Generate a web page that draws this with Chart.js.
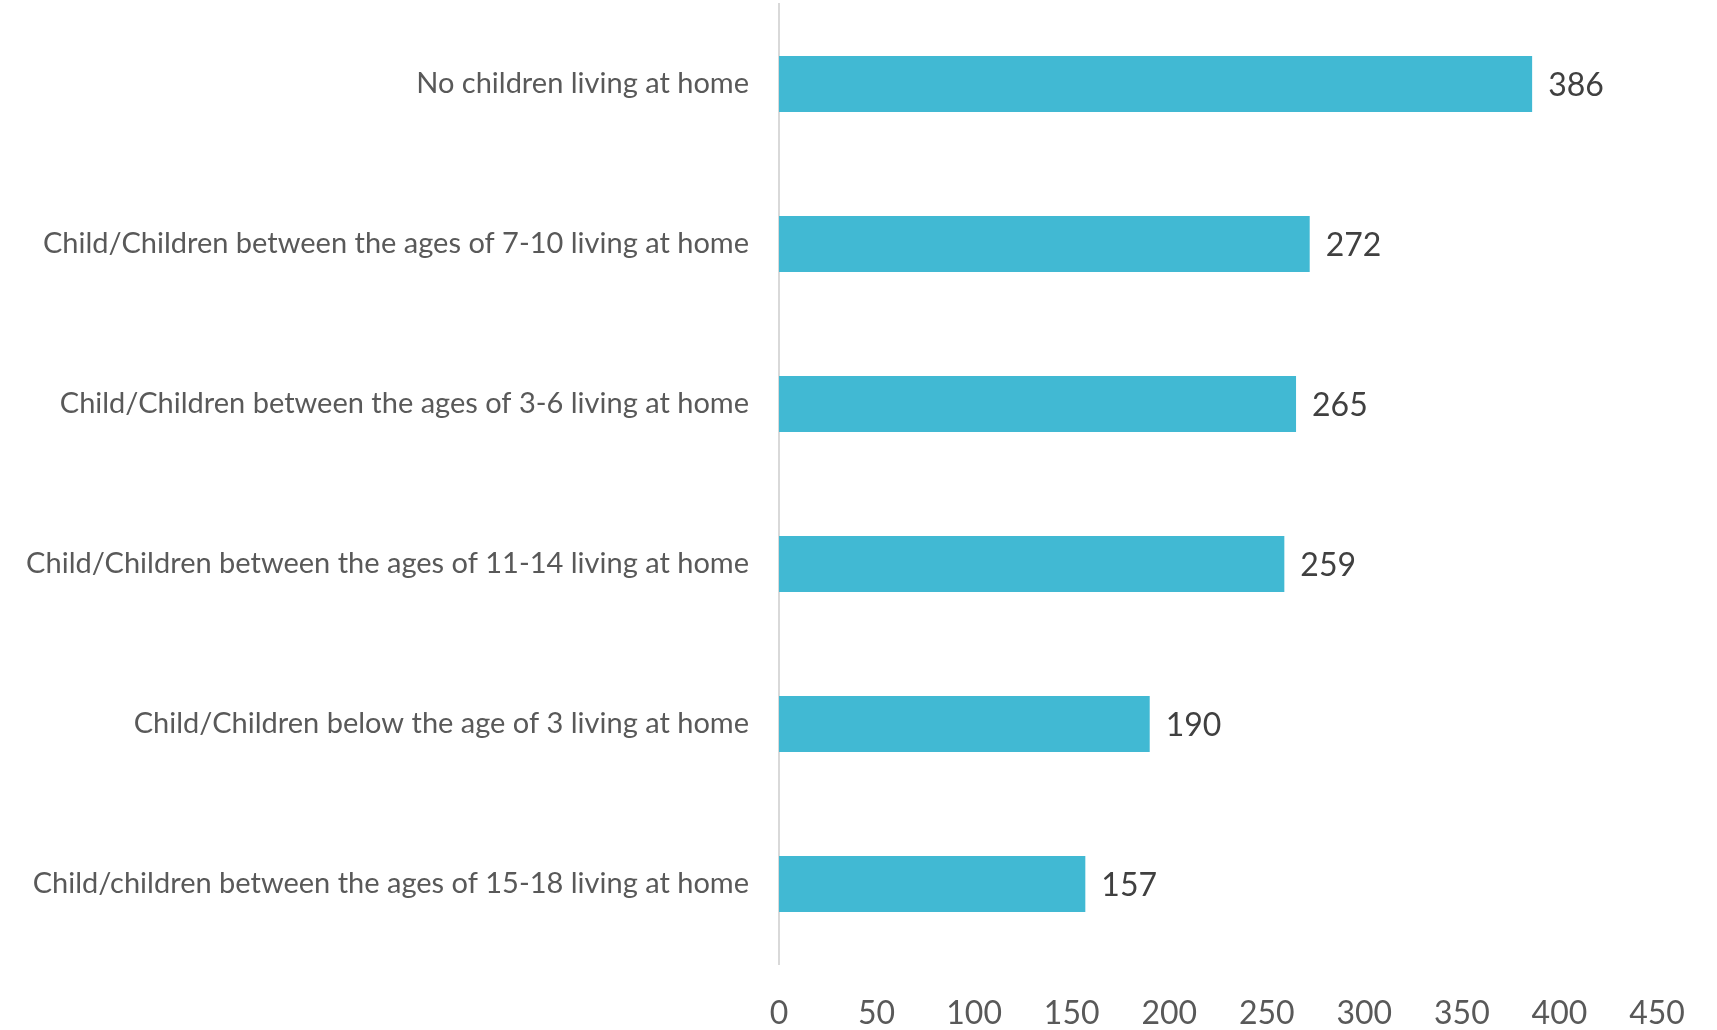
<!DOCTYPE html>
<html lang="en">
<head>
    <meta charset="UTF-8">
    <script src="https://cdn.jsdelivr.net/npm/chart.js"></script>
    <title>children at home</title>
    <style>
        html, body { margin: 0; padding: 0; background: #fff; }
        #box { width: 1717px; height: 1030px; }
    </style>
</head>
<body>
    <div id="box">
        <canvas id="grafico" width="1717" height="1030"></canvas>
    </div>

<script>
    const categorias = [
        'No children living at home',
        'Child/Children between the ages of 7-10 living at home',
        'Child/Children between the ages of 3-6 living at home',
        'Child/Children between the ages of 11-14 living at home',
        'Child/Children below the age of 3 living at home',
        'Child/children between the ages of 15-18 living at home'
    ];
    const valores = [386, 272, 265, 259, 190, 157];
    const ticksX = [0, 50, 100, 150, 200, 250, 300, 350, 400, 450];

    // writes the value next to the end of every bar
    const rotulos = {
        id: 'rotulos',
        afterDatasetsDraw(chart) {
            const ctx = chart.ctx;
            const meta = chart.getDatasetMeta(0);
            ctx.save();
            ctx.font = '32px Lato';
            ctx.fillStyle = '#404040';
            ctx.textAlign = 'left';
            ctx.textBaseline = 'middle';
            meta.data.forEach(function (bar, i) {
                ctx.fillText(String(valores[i]), bar.x + 16, bar.y + 2);
            });
            ctx.restore();
        }
    };

    const config = {
        type: 'bar',
        data: {
            labels: categorias,
            datasets: [{
                data: valores,
                backgroundColor: '#41B9D3',
                borderWidth: 0,
                barPercentage: 0.35,
                categoryPercentage: 1
            }]
        },
        options: {
            indexAxis: 'y',
            responsive: false,
            animation: false,
            layout: { padding: { top: 4, right: 60, left: 0, bottom: 0 } },
            plugins: {
                legend: { display: false },
                tooltip: { enabled: false }
            },
            scales: {
                x: {
                    min: 0,
                    max: 450,
                    afterBuildTicks(scale) {
                        scale.ticks = ticksX.map(v => ({ value: v }));
                    },
                    afterFit(scale) {
                        scale.height = 66;
                        scale.paddingLeft = 0;
                        scale.paddingRight = 0;
                    },
                    grid: { display: false, drawTicks: false },
                    border: { display: false },
                    ticks: {
                        padding: 30,
                        color: '#595959',
                        font: { family: 'Lato', size: 32 }
                    }
                },
                y: {
                    afterFit(scale) {
                        scale.width = 779;
                        scale.paddingTop = 0;
                        scale.paddingBottom = 0;
                    },
                    grid: { display: false, drawTicks: false },
                    border: { display: true, color: '#d9d9d9', width: 2 },
                    ticks: {
                        padding: 30,
                        color: '#595959',
                        font: { family: 'Lato', size: 29 }
                    }
                }
            }
        },
        plugins: [rotulos]
    };

    let ctx = document.getElementById('grafico').getContext('2d');
    let meuGrafico = new Chart(ctx, config);
</script>
</body>
</html>
